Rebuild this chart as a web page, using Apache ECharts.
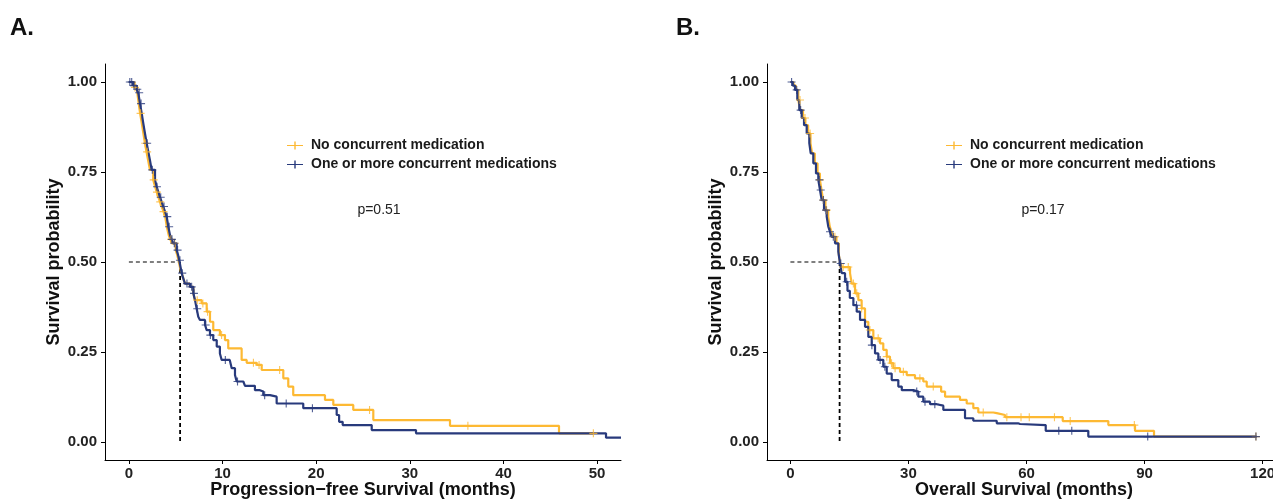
<!DOCTYPE html>
<html>
<head>
<meta charset="utf-8">
<script src="https://cdn.jsdelivr.net/npm/echarts@6/dist/echarts.min.js"></script>
<style>html,body{margin:0;padding:0;background:#fff}#c{width:1273px;height:500px}</style>
</head>
<body>
<div id="c"></div>
<script>
// ---------- data ----------
var groupNames = ['No concurrent medication', 'One or more concurrent medications'];
var xTicksA = [0, 10, 20, 30, 40, 50];
var xTicksB = [0, 30, 60, 90, 120];
var yTicks = [0, 0.25, 0.5, 0.75, 1];
var pValueA = 'p=0.51';
var pValueB = 'p=0.17';
var medianA = 5.47;
var medianB = 12.5;

// Panel A: progression-free survival, [months, survival probability]
var pfsNone = [[0,1],[0.6,0.985],[0.9,0.97],[1.05,0.94],[1.2,0.913],[1.38,0.885],[1.55,0.857],[1.72,0.83],[1.88,0.806],[2.05,0.783],[2.25,0.756],[2.6,0.728],[2.8,0.709],[2.98,0.694],[3.15,0.68],[3.32,0.667],[3.5,0.654],[3.7,0.64],[3.88,0.626],[4.05,0.598],[4.25,0.575],[4.42,0.563],[4.6,0.552],[5.0,0.533],[5.15,0.52],[5.3,0.505],[5.5,0.48],[5.64,0.469],[5.8,0.455],[5.99,0.44],[6.52,0.431],[6.88,0.413],[7.06,0.394],[7.77,0.385],[8.31,0.362],[8.66,0.334],[9.01,0.311],[9.72,0.297],[10.26,0.283],[10.61,0.26],[12.04,0.228],[12.58,0.22],[13.65,0.214],[14.18,0.2],[16.49,0.177],[17.02,0.154],[17.55,0.13],[20.94,0.117],[21.83,0.103],[23.96,0.089],[26.1,0.061],[34.29,0.045],[45.93,0.024],[49.6,0.024]];
var pfsOne = [[0,1],[0.45,0.99],[0.8,0.98],[1.0,0.97],[1.19,0.94],[1.37,0.913],[1.54,0.885],[1.72,0.857],[1.9,0.83],[2.08,0.806],[2.25,0.783],[2.43,0.756],[2.79,0.728],[2.97,0.709],[3.15,0.694],[3.32,0.68],[3.5,0.667],[3.67,0.654],[3.86,0.64],[4.04,0.626],[4.21,0.598],[4.39,0.575],[4.56,0.563],[4.74,0.552],[5.1,0.533],[5.25,0.52],[5.38,0.505],[5.56,0.48],[5.64,0.469],[5.8,0.455],[5.99,0.44],[6.52,0.431],[6.88,0.413],[7.06,0.394],[7.24,0.37],[7.41,0.348],[7.59,0.339],[8.13,0.325],[8.31,0.311],[8.66,0.297],[9.01,0.283],[9.38,0.265],[9.72,0.246],[9.91,0.228],[10.77,0.223],[10.98,0.205],[11.33,0.186],[11.51,0.168],[12.22,0.163],[12.4,0.156],[13.46,0.144],[13.99,0.14],[14.35,0.13],[15.07,0.126],[15.78,0.107],[18.62,0.094],[22.19,0.075],[22.45,0.056],[22.83,0.047],[25.93,0.033],[30.66,0.024],[50.95,0.012],[52.55,0.012]];
var pfsNoneCensor = [0.65,1.25,1.75,1.95,2.65,3.0,3.35,3.7,4.5,4.9,7.3,7.9,8.4,9.9,13.3,13.9,16.1,25.7,36.2,49.6];
var pfsOneCensor = [0.1,0.3,0.55,0.9,1.1,1.3,1.95,2.5,3.0,3.4,3.75,4.1,4.3,4.6,4.85,5.2,5.45,5.7,6.2,6.7,6.95,7.3,8.2,8.7,10.3,11.6,14.5,16.8,19.6];

// Panel B: overall survival, [months, survival probability]
var osNone = [[0,1],[0.8,0.99],[1.4,0.978],[2.0,0.95],[2.5,0.922],[3.2,0.9],[3.8,0.88],[4.5,0.857],[5.1,0.83],[5.5,0.802],[6.2,0.774],[6.9,0.746],[7.5,0.728],[7.9,0.7],[8.3,0.672],[8.9,0.644],[9.6,0.626],[10.0,0.598],[10.45,0.584],[10.9,0.57],[11.7,0.552],[12.3,0.52],[12.6,0.5],[13.04,0.486],[15.15,0.469],[15.58,0.44],[16.42,0.413],[17.26,0.394],[18.1,0.371],[18.96,0.334],[19.8,0.311],[21.07,0.288],[22.77,0.274],[23.6,0.256],[24.47,0.237],[25.3,0.219],[26.15,0.205],[27.85,0.195],[29.56,0.186],[31.66,0.177],[33.77,0.168],[34.64,0.154],[38.3,0.14],[39.3,0.126],[43.1,0.117],[44.8,0.107],[46.48,0.094],[47.75,0.082],[51.56,0.08],[52.43,0.075],[54.54,0.069],[69.2,0.058],[80.79,0.047],[87.57,0.031],[92.4,0.015],[118.3,0.015]];
var osOne = [[0,1],[0.6,0.99],[1.17,0.978],[1.75,0.95],[2.26,0.922],[2.87,0.9],[3.46,0.88],[4.14,0.857],[4.8,0.83],[5.16,0.802],[5.82,0.774],[6.5,0.746],[7.09,0.728],[7.52,0.7],[7.95,0.672],[8.54,0.644],[9.22,0.626],[9.63,0.598],[10.05,0.584],[10.5,0.57],[11.33,0.552],[12.17,0.529],[12.6,0.496],[13.04,0.469],[13.88,0.445],[14.5,0.42],[15.1,0.4],[16.0,0.38],[16.85,0.362],[17.69,0.339],[18.96,0.32],[19.8,0.292],[20.66,0.269],[21.5,0.246],[22.34,0.228],[23.6,0.209],[24.47,0.19],[25.74,0.172],[27.42,0.154],[28.3,0.144],[31.23,0.14],[32.5,0.126],[33.77,0.112],[35.48,0.105],[37.18,0.101],[38.86,0.089],[44.37,0.066],[46.48,0.059],[52.43,0.052],[57.84,0.05],[58.35,0.047],[64.88,0.031],[75.7,0.015],[118.5,0.015]];
var osNoneCensor = [2.44,3.7,5.0,7.5,8.4,9.2,11.3,13.4,14.7,16.0,16.85,18.1,20.2,22.3,24.5,25.7,26.6,28.7,32.9,36.3,49.0,55.0,58.6,60.7,67.1,71.1,87.4,118.3];
var osOneCensor = [0.3,1.6,2.6,7.35,7.7,8.37,9.05,10.06,10.9,12.8,14.3,16.8,20.7,22.8,24.0,32.1,34.2,36.7,68.2,71.5,90.8,118.3];

// ---------- styling ----------
var ORANGE = '#FDB933';
var NAVY = '#283A7C';
var FONT = 'Liberation Sans, Arial, Helvetica, sans-serif';
var PLUS = 'path://M0,4.3H10V5.7H0ZM4.3,0H5.7V10H4.3Z';
var LEGEND_ICON = 'path://M0,4.4H16V5.6H0ZM7.3,1H8.7V9H7.3Z';

function survAt(curve, t) {
  var s = curve[0][1];
  for (var i = 0; i < curve.length; i++) { if (curve[i][0] <= t) s = curve[i][1]; else break; }
  return s;
}
function censorPoints(curve, times) { return times.map(function (t) { return [t, survAt(curve, t)]; }); }

function xAxisCfg(idx, min, max, ticks, name) {
  return {
    type: 'value', gridIndex: idx, min: min, max: max,
    name: name, nameLocation: 'middle', nameGap: 21, nameMoveOverlap: false,
    nameTextStyle: { fontFamily: FONT, fontWeight: 'bold', fontSize: 18, color: '#111', lineHeight: 18 },
    axisLine: { show: true, onZero: false, lineStyle: { color: '#000', width: 1 } },
    axisTick: { show: true, length: 4, customValues: ticks, lineStyle: { color: '#000' } },
    axisLabel: { customValues: ticks, margin: 6, fontFamily: FONT, fontWeight: 'bold', fontSize: 15, color: '#222' },
    splitLine: { show: false }
  };
}
function yAxisCfg(idx) {
  return {
    type: 'value', gridIndex: idx, min: -0.05, max: 1.05,
    name: 'Survival probability', nameLocation: 'middle', nameGap: 42, nameRotate: 90, nameMoveOverlap: false,
    nameTextStyle: { fontFamily: FONT, fontWeight: 'bold', fontSize: 18, color: '#111', lineHeight: 18 },
    axisLine: { show: true, onZero: false, lineStyle: { color: '#000', width: 1 } },
    axisTick: { show: true, length: 4, customValues: yTicks, lineStyle: { color: '#000' } },
    axisLabel: { customValues: yTicks, margin: 8, fontFamily: FONT, fontWeight: 'bold', fontSize: 15, color: '#222',
      formatter: function (v) { return v.toFixed(2); } },
    splitLine: { show: false }
  };
}
function kmLine(name, data, color, ai) {
  return { type: 'line', name: name, data: data, step: 'end', xAxisIndex: ai, yAxisIndex: ai,
    showSymbol: false, symbol: 'none', color: color, itemStyle: { color: color },
    lineStyle: { color: color, width: 2.2 }, emphasis: { disabled: true }, z: 3 };
}
function censor(data, color, ai) {
  return { type: 'scatter', name: 'censor', data: data, xAxisIndex: ai, yAxisIndex: ai,
    symbol: PLUS, symbolSize: 8, itemStyle: { color: color }, emphasis: { disabled: true }, z: 4 };
}
function dash(data, ai, w) {
  return { type: 'line', name: 'median', data: data, xAxisIndex: ai, yAxisIndex: ai, showSymbol: false, symbol: 'none',
    lineStyle: { color: '#000', width: w, type: [4, 3] }, emphasis: { disabled: true }, z: 2 };
}
function legendCfg(left) {
  return { data: groupNames, orient: 'vertical', left: left, top: 138, padding: 0, icon: LEGEND_ICON,
    itemWidth: 16, itemHeight: 10, itemGap: 4, selectedMode: false,
    textStyle: { fontFamily: FONT, fontWeight: 'bold', fontSize: 14, color: '#1a1a1a', lineHeight: 15, padding: [0, 0, 0, 3] } };
}

var chart = echarts.init(document.getElementById('c'), null, { renderer: 'canvas' });
chart.setOption({
  animation: false,
  backgroundColor: '#fff',
  grid: [
    { left: 105, top: 64, width: 516, height: 396, containLabel: false, outerBoundsMode: 'none' },
    { left: 767, top: 64, width: 514, height: 396, containLabel: false, outerBoundsMode: 'none' }
  ],
  xAxis: [
    xAxisCfg(0, -2.55, 52.55, xTicksA, 'Progression\u2212free Survival (months)'),
    xAxisCfg(1, -5.95, 124.67, xTicksB, 'Overall Survival (months)')
  ],
  yAxis: [yAxisCfg(0), yAxisCfg(1)],
  legend: [legendCfg(287), legendCfg(946)],
  series: [
    dash([[0, 0.5], [medianA, 0.5]], 0, 1.2),
    dash([[medianA, 0.5], [medianA, 0]], 0, 1.8),
    dash([[0, 0.5], [medianB, 0.5]], 1, 1.2),
    dash([[medianB, 0.5], [medianB, 0]], 1, 1.8),
    kmLine(groupNames[0], pfsNone, ORANGE, 0),
    censor(censorPoints(pfsNone, pfsNoneCensor), ORANGE, 0),
    kmLine(groupNames[1], pfsOne, NAVY, 0),
    censor(censorPoints(pfsOne, pfsOneCensor), NAVY, 0),
    kmLine(groupNames[0], osNone, ORANGE, 1),
    censor(censorPoints(osNone, osNoneCensor), ORANGE, 1),
    kmLine(groupNames[1], osOne, NAVY, 1),
    censor(censorPoints(osOne, osOneCensor), NAVY, 1)
  ],
  graphic: [
    { type: 'text', left: 10, top: 16, style: { text: 'A.', font: 'bold 24px ' + FONT, fill: '#111' } },
    { type: 'text', left: 676, top: 16, style: { text: 'B.', font: 'bold 24px ' + FONT, fill: '#111' } },
    { type: 'text', x: 379, y: 210, style: { text: pValueA, font: '14px ' + FONT, fill: '#222', align: 'center', verticalAlign: 'middle' } },
    { type: 'text', x: 1043, y: 210, style: { text: pValueB, font: '14px ' + FONT, fill: '#222', align: 'center', verticalAlign: 'middle' } }
  ]
});
</script>
</body>
</html>
